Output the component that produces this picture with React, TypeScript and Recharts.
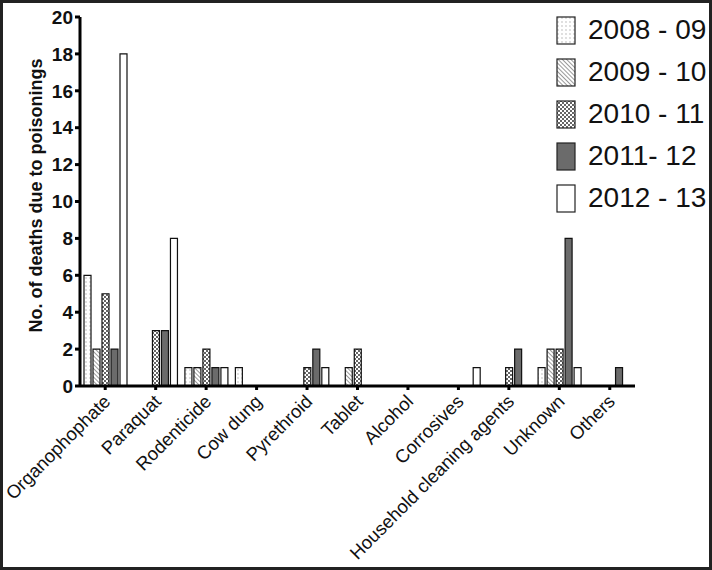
import React from "react";
import { BarChart, Bar, XAxis, YAxis, Label } from "recharts";

const categories = [
  "Organophophate",
  "Paraquat",
  "Rodenticide",
  "Cow dung",
  "Pyrethroid",
  "Tablet",
  "Alcohol",
  "Corrosives",
  "Household cleaning agents",
  "Unknown",
  "Others",
];

const y0809 = [6, 0, 1, 1, 0, 0, 0, 0, 0, 1, 0];
const y0910 = [2, 0, 1, 0, 0, 1, 0, 0, 0, 2, 0];
const y1011 = [5, 3, 2, 0, 1, 2, 0, 0, 1, 2, 0];
const y1112 = [2, 3, 1, 0, 2, 0, 0, 0, 2, 8, 1];
const y1213 = [18, 8, 1, 0, 1, 0, 0, 1, 0, 1, 0];

const seriesNames = ["2008 - 09", "2009 - 10", "2010 - 11", "2011- 12", "2012 - 13"];
const seriesKeys = ["a", "b", "c", "d", "e"];
const seriesFills = ["url(#dots)", "url(#hatch)", "url(#checker)", "#6b6b6b", "#ffffff"];
const yTicks = [0, 2, 4, 6, 8, 10, 12, 14, 16, 18, 20];

const data = categories.map((name, i) => ({
  name,
  a: y0809[i],
  b: y0910[i],
  c: y1011[i],
  d: y1112[i],
  e: y1213[i],
}));

const font = "'Liberation Sans', Arial, sans-serif";

const XTick = ({ x, y, payload }: any) => (
  <g transform={`translate(${x},${y})`}>
    <text
      x={0}
      y={0}
      dx={-3}
      dy={12}
      textAnchor="end"
      transform="rotate(-45)"
      fontSize={18.5}
      fontFamily={font}
      fill="#111"
    >
      {payload.value}
    </text>
  </g>
);

const Legend = () => (
  <div style={{ position: "absolute", left: 553, top: 6, fontFamily: font }}>
    {seriesNames.map((n, i) => (
      <div key={n} style={{ display: "flex", alignItems: "center", height: 42 }}>
        <svg width={20} height={29}>
          <rect x={1} y={1} width={18} height={27} fill={seriesFills[i]} stroke="#222" strokeWidth={1.2} />
        </svg>
        <span style={{ marginLeft: 12, fontSize: 28, color: "#111" }}>{n}</span>
      </div>
    ))}
  </div>
);

export default function App() {
  return (
    <div
      style={{
        position: "absolute",
        left: 0,
        top: 0,
        width: 712,
        height: 570,
        boxSizing: "border-box",
        border: "3px solid #222",
        background: "#fff",
      }}
    >
      <div style={{ position: "absolute", left: -3, top: -3 }}>
        <BarChart
          width={712}
          height={570}
          data={data}
          margin={{ top: 17, right: 77, bottom: 0, left: 0 }}
          barSize={7}
          barGap={2}
        >
          <defs>
            <pattern id="dots" width="4" height="4" patternUnits="userSpaceOnUse">
              <rect width="4" height="4" fill="#fff" />
              <circle cx="2" cy="2" r="0.7" fill="#aaa" />
            </pattern>
            <pattern id="hatch" width="3" height="3" patternUnits="userSpaceOnUse" patternTransform="rotate(-45)">
              <rect width="3" height="3" fill="#fff" />
              <line x1="0" y1="0" x2="0" y2="3" stroke="#555" strokeWidth="1.2" />
            </pattern>
            <pattern id="checker" width="4" height="4" patternUnits="userSpaceOnUse">
              <rect width="4" height="4" fill="#fff" />
              <rect width="2" height="2" fill="#666" />
              <rect x="2" y="2" width="2" height="2" fill="#666" />
            </pattern>
          </defs>
          <XAxis
            dataKey="name"
            interval={0}
            height={184}
            tick={<XTick />}
            axisLine={{ stroke: "#000", strokeWidth: 3 }}
            tickLine={{ stroke: "#000", strokeWidth: 3 }}
            tickSize={4}
          />
          <YAxis
            domain={[0, 20]}
            ticks={yTicks}
            width={80}
            axisLine={{ stroke: "#000", strokeWidth: 3 }}
            tickLine={{ stroke: "#000", strokeWidth: 3 }}
            tickSize={5}
            tick={{ fill: "#111", fontSize: 19, fontWeight: "bold", fontFamily: font }}
          >
            <Label
              value="No. of deaths due to poisonings"
              angle={-90}
              position="insideLeft"
              offset={36}
              dy={-6}
              style={{ textAnchor: "middle", fontSize: 18, fontWeight: "bold", fontFamily: font, fill: "#111" }}
            />
          </YAxis>
          {seriesKeys.map((k, i) => (
            <Bar
              key={k}
              dataKey={k}
              name={seriesNames[i]}
              fill={seriesFills[i]}
              stroke="#111"
              strokeWidth={1.2}
              isAnimationActive={false}
            />
          ))}
        </BarChart>
      </div>
      <Legend />
    </div>
  );
}
